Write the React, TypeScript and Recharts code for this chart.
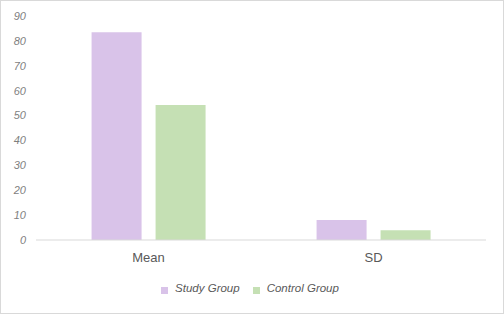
import React from 'react';
import { BarChart, Bar, XAxis, YAxis, Legend } from 'recharts';

const categories = ['Mean', 'SD'];
const studyGroup = [83.5, 8.0];
const controlGroup = [54.2, 3.9];
const yTicks = [0, 10, 20, 30, 40, 50, 60, 70, 80, 90];
const seriesNames = ['Study Group', 'Control Group'];
const seriesColors = ['#d9c3e9', '#c5e0b4'];

const data = categories.map((c, i) => ({ name: c, study: studyGroup[i], control: controlGroup[i] }));

const scriptFont = '"Liberation Sans", sans-serif';

const renderLegend = () => (
  <div style={{ display: 'flex', justifyContent: 'center', alignItems: 'center', height: 20, paddingLeft: 14 }}>
    {seriesNames.map((n, i) => (
      <div key={n} style={{ display: 'flex', alignItems: 'center', marginRight: i === 0 ? 13 : 0 }}>
        <span style={{ width: 7, height: 7, background: seriesColors[i], display: 'inline-block', marginRight: 7, marginTop: 4 }} />
        <span style={{ fontFamily: scriptFont, fontStyle: 'italic', fontSize: 11.5, color: '#595959' }}>{n}</span>
      </div>
    ))}
  </div>
);

export default function App() {
  return (
    <div style={{ position: 'absolute', left: 0, top: 0, width: 504, height: 314, background: '#fff' }}>
      <div style={{ position: 'absolute', left: 0, top: 0, width: 502, height: 312, border: '1px solid #d9d9d9' }} />
      <BarChart
        width={504}
        height={314}
        data={data}
        margin={{ top: 16, right: 18, left: 0, bottom: 16 }}
        barCategoryGap="24.7%"
        barGap={14}
      >
        <YAxis
          domain={[0, 90]}
          ticks={yTicks}
          width={36}
          axisLine={false}
          tickLine={false}
          tickSize={0}
          tickMargin={10}
          tick={{ fill: '#7f7f7f', fontSize: 11, fontFamily: scriptFont, fontStyle: 'italic' }}
        />
        <XAxis
          dataKey="name"
          height={38}
          axisLine={{ stroke: '#d9d9d9', strokeWidth: 1 }}
          tickLine={false}
          tickSize={0}
          tickMargin={13}
          tick={{ fill: '#595959', fontSize: 13, fontFamily: '"Liberation Sans", sans-serif' }}
        />
        <Legend verticalAlign="bottom" height={20} content={renderLegend} />
        <Bar dataKey="study" name={seriesNames[0]} fill={seriesColors[0]} isAnimationActive={false} />
        <Bar dataKey="control" name={seriesNames[1]} fill={seriesColors[1]} isAnimationActive={false} />
      </BarChart>
    </div>
  );
}
